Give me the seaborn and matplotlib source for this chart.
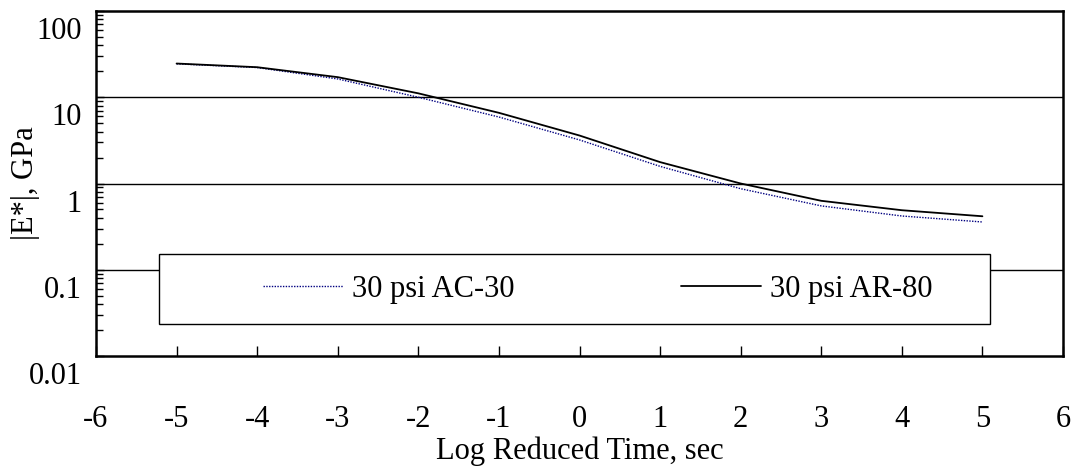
import seaborn as sns
import matplotlib.pyplot as plt
import matplotlib.transforms as mtransforms
from matplotlib.ticker import LogLocator, NullFormatter, FixedLocator, FixedFormatter
from matplotlib.patches import Rectangle

# data
log_time = [-5, -4, -3, -2, -1, 0, 1, 2, 3, 4, 5]
e_ac30 = [24.4, 22.1, 16.3, 10.0, 5.9, 3.2, 1.58, 0.87, 0.55, 0.42, 0.358]
e_ar80 = [24.6, 22.3, 17.1, 11.1, 6.6, 3.6, 1.77, 1.0, 0.63, 0.49, 0.417]

y_major = [0.01, 0.1, 1, 10, 100]
y_labels = ['0.01', '0.1', '1', '10', '100']
x_ticks = list(range(-6, 7))
x_labels = [str(v) for v in x_ticks]

sns.set_theme(style='white')
plt.rcParams['font.family'] = ['Liberation Serif', 'DejaVu Serif']
plt.rcParams['axes.unicode_minus'] = False
plt.rcParams['text.color'] = 'black'
plt.rcParams['axes.labelcolor'] = 'black'

fs = 22
fig = plt.figure(figsize=(10.75, 4.7), dpi=100)
ax = fig.add_axes([96 / 1075, 1 - 356 / 470, 967 / 1075, 345 / 470])

sns.lineplot(x=log_time, y=e_ac30, ax=ax, color='#000080', linestyle=(0, (1, 1)),
             linewidth=1.0, label='30 psi AC-30', zorder=5)
sns.lineplot(x=log_time, y=e_ar80, ax=ax, color='black', linewidth=1.3,
             label='30 psi AR-80', zorder=5)

ax.set_yscale('log')
ax.set_xlim(-6, 6)
ax.set_ylim(0.01, 100)

for g in [0.1, 1, 10]:
    ax.axhline(g, color='black', linewidth=1.0, zorder=1)

ax.xaxis.set_major_locator(FixedLocator(x_ticks))
ax.xaxis.set_major_formatter(FixedFormatter(x_labels))
ax.yaxis.set_major_locator(FixedLocator(y_major))
ax.yaxis.set_major_formatter(FixedFormatter(y_labels))
ax.yaxis.set_minor_locator(LogLocator(base=10, subs=range(2, 10)))
ax.yaxis.set_minor_formatter(NullFormatter())

ax.tick_params(axis='x', direction='in', length=7, width=1, pad=35,
               labelsize=fs, colors='black', bottom=True)
ax.tick_params(axis='y', which='major', direction='in', length=6, width=1,
               pad=10, labelsize=fs, colors='black', left=True)
ax.tick_params(axis='y', which='minor', direction='in', length=5, width=1,
               colors='black', left=True)

# labels sit below their tick in the reference
shift = mtransforms.ScaledTranslation(0, -17 / 100, fig.dpi_scale_trans)
for t in ax.yaxis.get_major_ticks():
    t.label1.set_transform(t.label1.get_transform() + shift)

for s in ax.spines.values():
    s.set_color('black')
    s.set_linewidth(1.8)

ax.set_xlabel('Log Reduced Time, sec', fontsize=fs)
ax.set_ylabel('|E*|, GPa', fontsize=fs)
ax.xaxis.label.set_va('center')
ax.yaxis.label.set_va('center')
ax.xaxis.set_label_coords(0.5, -(451 - 356) / 345)
ax.yaxis.set_label_coords(-(96 - 25) / 967, 0.5)

# legend box
ax.add_patch(Rectangle((0.065, 0.093), 0.8595, 0.203, transform=ax.transAxes,
                       facecolor='white', edgecolor='black', linewidth=1.0, zorder=3))
ax.legend(loc='center left', bbox_to_anchor=((248 - 96) / 967, 0.194), ncol=2,
          frameon=False, borderpad=0, fontsize=fs, handlelength=80 / 30.6,
          handletextpad=0.3, columnspacing=5.45)
ax.get_legend().set_zorder(6)

fig.savefig('out.png', dpi=100)
